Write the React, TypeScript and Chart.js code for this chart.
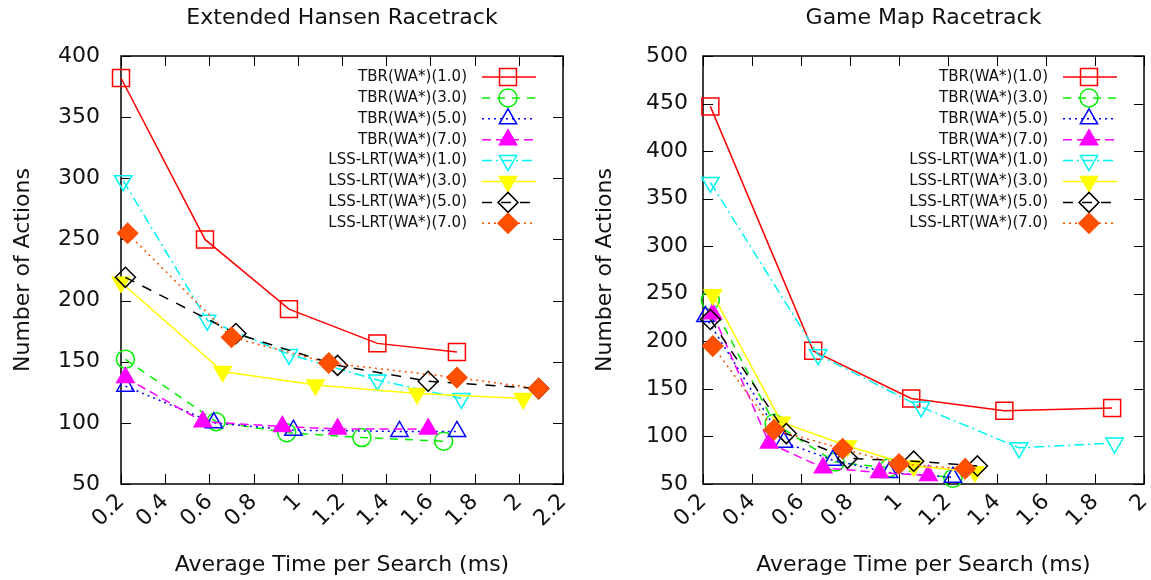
import React, { useEffect, useRef } from 'react';
import { Chart, registerables } from 'chart.js';

Chart.register(...registerables);

const FONT = '"DejaVu Sans", "Liberation Sans", sans-serif';

// Series shared by both panels
const seriesLabels = [
  'TBR(WA*)(1.0)',
  'TBR(WA*)(3.0)',
  'TBR(WA*)(5.0)',
  'TBR(WA*)(7.0)',
  'LSS-LRT(WA*)(1.0)',
  'LSS-LRT(WA*)(3.0)',
  'LSS-LRT(WA*)(5.0)',
  'LSS-LRT(WA*)(7.0)',
];
const seriesColors = ['#ff0000', '#00f000', '#0000ff', '#ff00ff', '#00f4f4', '#ffff00', '#000000', '#ff4f00'];
const seriesDash = [[], [8, 7], [2, 4], [9, 5], [10, 4, 2, 4], [], [10, 9], [2, 4]];
const seriesShape = ['rect', 'circle', 'triangle', 'triangle', 'triangle', 'triangle', 'rectRot', 'rectRot'];
const seriesRotation = [0, 0, 0, 0, 180, 180, 0, 0];
const seriesFilled = [false, false, false, true, false, true, false, true];
const seriesRadius = [12, 9, 10, 10, 10, 10, 10, 10];

// Extended Hansen Racetrack
const hansenTbr1Time = [0.2, 0.58, 0.96, 1.36, 1.72];
const hansenTbr1Actions = [382, 250, 193, 165, 158];
const hansenTbr3Time = [0.22, 0.63, 0.95, 1.29, 1.66];
const hansenTbr3Actions = [152, 101, 92, 88, 85];
const hansenTbr5Time = [0.22, 0.62, 0.98, 1.46, 1.72];
const hansenTbr5Actions = [130, 100, 94, 93, 93];
const hansenTbr7Time = [0.22, 0.57, 0.93, 1.18, 1.59];
const hansenTbr7Actions = [137, 101, 97, 95, 95];
const hansenLss1Time = [0.21, 0.59, 0.96, 1.36, 1.74];
const hansenLss1Actions = [298, 184, 156, 135, 120];
const hansenLss3Time = [0.2, 0.66, 1.08, 1.54, 2.02];
const hansenLss3Actions = [215, 142, 131, 124, 120];
const hansenLss5Time = [0.22, 0.72, 1.18, 1.59, 2.09];
const hansenLss5Actions = [219, 173, 147, 134, 128];
const hansenLss7Time = [0.23, 0.7, 1.14, 1.72, 2.09];
const hansenLss7Actions = [255, 170, 149, 137, 128];

// Game Map Racetrack
const gameTbr1Time = [0.23, 0.65, 1.05, 1.43, 1.87];
const gameTbr1Actions = [447, 190, 140, 127, 130];
const gameTbr3Time = [0.23, 0.49, 0.74, 0.96, 1.22];
const gameTbr3Actions = [243, 114, 73, 67, 56];
const gameTbr5Time = [0.21, 0.53, 0.73, 0.96, 1.22];
const gameTbr5Actions = [226, 94, 75, 62, 57];
const gameTbr7Time = [0.24, 0.47, 0.69, 0.92, 1.12];
const gameTbr7Actions = [229, 93, 67, 62, 59];
const gameLss1Time = [0.23, 0.67, 1.09, 1.49, 1.88];
const gameLss1Actions = [367, 186, 131, 88, 93];
const gameLss3Time = [0.24, 0.52, 0.79, 1.06, 1.31];
const gameLss3Actions = [249, 115, 90, 69, 63];
const gameLss5Time = [0.23, 0.54, 0.79, 1.06, 1.32];
const gameLss5Actions = [223, 103, 77, 74, 69];
const gameLss7Time = [0.24, 0.49, 0.77, 1.0, 1.27];
const gameLss7Actions = [195, 107, 87, 71, 66];

const hansenTimes = [hansenTbr1Time, hansenTbr3Time, hansenTbr5Time, hansenTbr7Time, hansenLss1Time, hansenLss3Time, hansenLss5Time, hansenLss7Time];
const hansenActions = [hansenTbr1Actions, hansenTbr3Actions, hansenTbr5Actions, hansenTbr7Actions, hansenLss1Actions, hansenLss3Actions, hansenLss5Actions, hansenLss7Actions];
const gameTimes = [gameTbr1Time, gameTbr3Time, gameTbr5Time, gameTbr7Time, gameLss1Time, gameLss3Time, gameLss5Time, gameLss7Time];
const gameActions = [gameTbr1Actions, gameTbr3Actions, gameTbr5Actions, gameTbr7Actions, gameLss1Actions, gameLss3Actions, gameLss5Actions, gameLss7Actions];

const xTitle = 'Average Time per Search (ms)';
const yTitle = 'Number of Actions';

type Panel = {
  title: string;
  times: number[][];
  actions: number[][];
  xMin: number;
  xMax: number;
  yMin: number;
  yMax: number;
  canvasLeft: number;
  canvasWidth: number;
  plotLeft: number;
  plotRight: number;
  yLabelPad: number;
  yTitleX: number;
};

const panels: Panel[] = [
  {
    title: 'Extended Hansen Racetrack',
    times: hansenTimes,
    actions: hansenActions,
    xMin: 0.2, xMax: 2.2, yMin: 50, yMax: 400,
    canvasLeft: 0, canvasWidth: 580,
    plotLeft: 121, plotRight: 563,
    yLabelPad: 21,
    yTitleX: 23,
  },
  {
    title: 'Game Map Racetrack',
    times: gameTimes,
    actions: gameActions,
    xMin: 0.2, xMax: 2.0, yMin: 50, yMax: 500,
    canvasLeft: 580, canvasWidth: 600,
    plotLeft: 123, plotRight: 564,
    yLabelPad: 15,
    yTitleX: 25,
  },
];

const CANVAS_H = 580;
const PLOT_TOP = 56;
const PLOT_BOTTOM = 484;

function traceMarker(ctx: CanvasRenderingContext2D, shape: string, x: number, y: number, r: number, rotDeg: number) {
  const rad = (rotDeg * Math.PI) / 180;
  ctx.beginPath();
  if (shape === 'rect') {
    const s = Math.SQRT1_2 * r;
    ctx.rect(x - s, y - s, 2 * s, 2 * s);
  } else if (shape === 'circle') {
    ctx.arc(x, y, r, 0, Math.PI * 2);
  } else if (shape === 'triangle') {
    let a = rad;
    ctx.moveTo(x + Math.sin(a) * r, y - Math.cos(a) * r);
    a += (2 * Math.PI) / 3;
    ctx.lineTo(x + Math.sin(a) * r, y - Math.cos(a) * r);
    a += (2 * Math.PI) / 3;
    ctx.lineTo(x + Math.sin(a) * r, y - Math.cos(a) * r);
    ctx.closePath();
  } else {
    ctx.moveTo(x, y - r);
    ctx.lineTo(x + r, y);
    ctx.lineTo(x, y + r);
    ctx.lineTo(x - r, y);
    ctx.closePath();
  }
}

function makeDecor(p: Panel) {
  return {
    id: 'gnuDecor',
    beforeDatasetsDraw(chart: any) {
      const { ctx, chartArea: a, scales } = chart;
      ctx.save();
      ctx.strokeStyle = '#000';
      ctx.lineWidth = 1;
      const tl = 10;
      ctx.beginPath();
      scales.x.ticks.forEach((t: any) => {
        const px = Math.round(scales.x.getPixelForValue(t.value)) + 0.5;
        ctx.moveTo(px, a.bottom);
        ctx.lineTo(px, a.bottom - tl);
        ctx.moveTo(px, a.top);
        ctx.lineTo(px, a.top + tl);
      });
      scales.y.ticks.forEach((t: any) => {
        const py = Math.round(scales.y.getPixelForValue(t.value)) + 0.5;
        ctx.moveTo(a.left, py);
        ctx.lineTo(a.left + tl, py);
        ctx.moveTo(a.right, py);
        ctx.lineTo(a.right - tl, py);
      });
      ctx.stroke();
      ctx.lineWidth = 1.5;
      ctx.strokeRect(a.left, a.top, a.right - a.left, a.bottom - a.top);
      ctx.restore();
    },
    afterDatasetsDraw(chart: any) {
      const { ctx, chartArea: a } = chart;
      ctx.save();
      // key block in the upper right of the plot
      ctx.font = `15px ${FONT}`;
      ctx.textAlign = 'right';
      ctx.textBaseline = 'middle';
      const textRight = a.right - 96;
      const lineL = a.right - 81;
      const lineR = a.right - 27;
      const markX = a.right - 55;
      seriesLabels.forEach((label, i) => {
        const y = 77 + i * 20.9;
        ctx.fillStyle = '#111';
        ctx.fillText(label, textRight, y);
        ctx.strokeStyle = seriesColors[i];
        ctx.lineWidth = 1.5;
        ctx.setLineDash(seriesDash[i]);
        ctx.beginPath();
        ctx.moveTo(lineL, y);
        ctx.lineTo(lineR, y);
        ctx.stroke();
        ctx.setLineDash([]);
        traceMarker(ctx, seriesShape[i], markX, y, seriesRadius[i], seriesRotation[i]);
        if (seriesFilled[i]) {
          ctx.fillStyle = seriesColors[i];
          ctx.fill();
        }
        ctx.stroke();
      });
      // panel title and axis titles, centred on the plot box
      const cx = (a.left + a.right) / 2;
      const cy = (a.top + a.bottom) / 2;
      ctx.fillStyle = '#111';
      ctx.textAlign = 'center';
      ctx.textBaseline = 'middle';
      ctx.font = `22px ${FONT}`;
      ctx.fillText(p.title, cx, 18);
      ctx.fillText(xTitle, cx, 565);
      ctx.translate(p.yTitleX, cy);
      ctx.rotate(-Math.PI / 2);
      ctx.fillText(yTitle, 0, 0);
      ctx.restore();
    },
  };
}

function formatTick(v: number | string) {
  return String(Number(Number(v).toFixed(1)));
}

function PanelChart({ p }: { p: Panel }) {
  const ref = useRef<HTMLCanvasElement>(null);
  useEffect(() => {
    const datasets = seriesLabels.map((label, i) => ({
      label,
      data: p.times[i].map((t, k) => ({ x: t, y: p.actions[i][k] })),
      showLine: true,
      borderColor: seriesColors[i],
      backgroundColor: seriesFilled[i] ? seriesColors[i] : 'rgba(0,0,0,0)',
      borderWidth: 1.5,
      borderDash: seriesDash[i],
      tension: 0,
      pointStyle: seriesShape[i] as any,
      pointRotation: seriesRotation[i],
      pointRadius: seriesRadius[i],
      pointBorderWidth: 1.5,
      pointBorderColor: seriesColors[i],
      pointBackgroundColor: seriesFilled[i] ? seriesColors[i] : 'rgba(0,0,0,0)',
      order: seriesLabels.length - i,
      clip: false as any,
    }));
    const chart = new Chart(ref.current!, {
      type: 'scatter',
      data: { datasets },
      plugins: [makeDecor(p)],
      options: {
        animation: false,
        responsive: false,
        events: [],
        layout: {
          padding: { left: 0, right: p.canvasWidth - p.plotRight, top: PLOT_TOP, bottom: 0 },
        },
        plugins: {
          legend: { display: false },
          tooltip: { enabled: false },
          title: { display: false },
        },
        scales: {
          x: {
            type: 'linear',
            min: p.xMin,
            max: p.xMax,
            grid: { display: false, drawTicks: false },
            border: { display: false },
            afterFit: (s: any) => {
              s.height = CANVAS_H - PLOT_BOTTOM;
              s.paddingLeft = 0;
              s.paddingRight = 0;
            },
            ticks: {
              stepSize: 0.2,
              autoSkip: false,
              minRotation: 45,
              maxRotation: 45,
              padding: 5,
              color: '#111',
              font: { family: FONT, size: 22 },
              callback: (v: any) => formatTick(v),
            },
          },
          y: {
            type: 'linear',
            min: p.yMin,
            max: p.yMax,
            grid: { display: false, drawTicks: false },
            border: { display: false },
            afterFit: (s: any) => {
              s.width = p.plotLeft;
              s.paddingTop = 0;
              s.paddingBottom = 0;
            },
            ticks: {
              stepSize: 50,
              padding: p.yLabelPad,
              color: '#111',
              font: { family: FONT, size: 22 },
            },
          },
        },
      } as any,
    });
    return () => chart.destroy();
  }, [p]);
  return (
    <canvas
      ref={ref}
      width={p.canvasWidth}
      height={CANVAS_H}
      style={{ position: 'absolute', left: p.canvasLeft, top: 0, display: 'block' }}
    />
  );
}

export default function App() {
  return (
    <div
      style={{
        position: 'absolute',
        left: 0,
        top: 0,
        width: 1151,
        height: 580,
        overflow: 'hidden',
        background: '#fff',
      }}
    >
      {panels.map((p) => (
        <PanelChart key={p.title} p={p} />
      ))}
    </div>
  );
}
